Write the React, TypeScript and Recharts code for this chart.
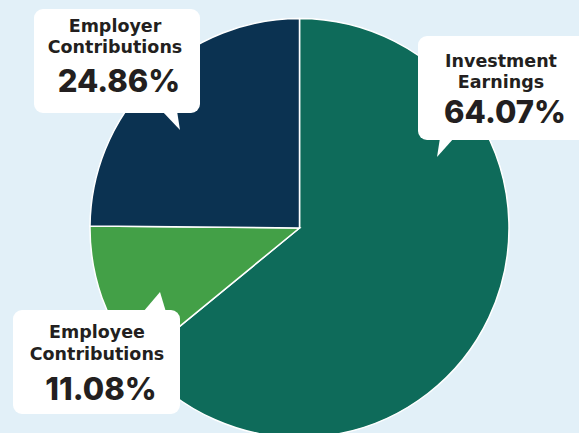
import React from "react";
import { PieChart, Pie, Cell } from "recharts";

const categories = ["Investment Earnings", "Employee Contributions", "Employer Contributions"];
const shares = [64.07, 11.08, 24.86];
const colors = ["#0e6b5a", "#43a047", "#0b3251"];

const data = categories.map((name, i) => ({ name, value: shares[i] }));

// callout layout (annotation boxes), absolute within the chart
const callouts = [
  { box: [418, 36, 170, 104], tail: [[440, 138], [437, 157], [454, 138]], tx: 501, lines: [67, 88], pct: 123 },
  { box: [13, 310, 167, 104], tail: [[143, 312], [160, 292], [166, 312]], tx: 97, lines: [338, 360], pct: 400 },
  { box: [34, 9, 166, 104], tail: [[162, 111], [180, 130], [177, 111]], tx: 115, lines: [32, 53], pct: 92 },
];

const NAME_FONT = "'DejaVu Sans', sans-serif";
const PCT_FONT = "Inter, 'DejaVu Sans', sans-serif";

const renderLabel = (props: any) => {
  const i = props.index;
  const c = callouts[i];
  const [x, y, w, h] = c.box;
  const words = categories[i].split(" ");
  return (
    <g key={`cl-${i}`}>
      <path
        d={`M${c.tail[0][0]},${c.tail[0][1]} L${c.tail[1][0]},${c.tail[1][1]} L${c.tail[2][0]},${c.tail[2][1]} Z`}
        fill="#ffffff"
      />
      <rect x={x} y={y} width={w} height={h} rx={9} ry={9} fill="#ffffff" />
      {words.map((wd, k) => (
        <text
          key={k}
          x={c.tx}
          y={c.lines[k]}
          textAnchor="middle"
          fontFamily={NAME_FONT}
          fontWeight={700}
          fontSize={17.5}
          fill="#231f20"
        >
          {wd}
        </text>
      ))}
      <text
        x={c.tx + 4}
        y={c.pct}
        textAnchor="middle"
        fontFamily={PCT_FONT}
        fontWeight={800}
        fontSize={31}
        fill="#231f20"
      >
        {shares[i].toFixed(2)}%
      </text>
    </g>
  );
};

export default function App() {
  return (
    <div
      style={{
        position: "absolute",
        left: 0,
        top: 0,
        width: 579,
        height: 433,
        background: "#e2f0f8",
        overflow: "hidden",
      }}
    >
      <PieChart width={579} height={433} margin={{ top: 0, right: 0, bottom: 0, left: 0 }}>
        <Pie
          data={data}
          dataKey="value"
          nameKey="name"
          cx={299.5}
          cy={228}
          outerRadius={209.5}
          startAngle={90}
          endAngle={-270}
          stroke="#ffffff"
          strokeWidth={1.5}
          label={renderLabel}
          labelLine={false}
          isAnimationActive={false}
        >
          {data.map((d, i) => (
            <Cell key={d.name} fill={colors[i]} />
          ))}
        </Pie>
      </PieChart>
    </div>
  );
}
